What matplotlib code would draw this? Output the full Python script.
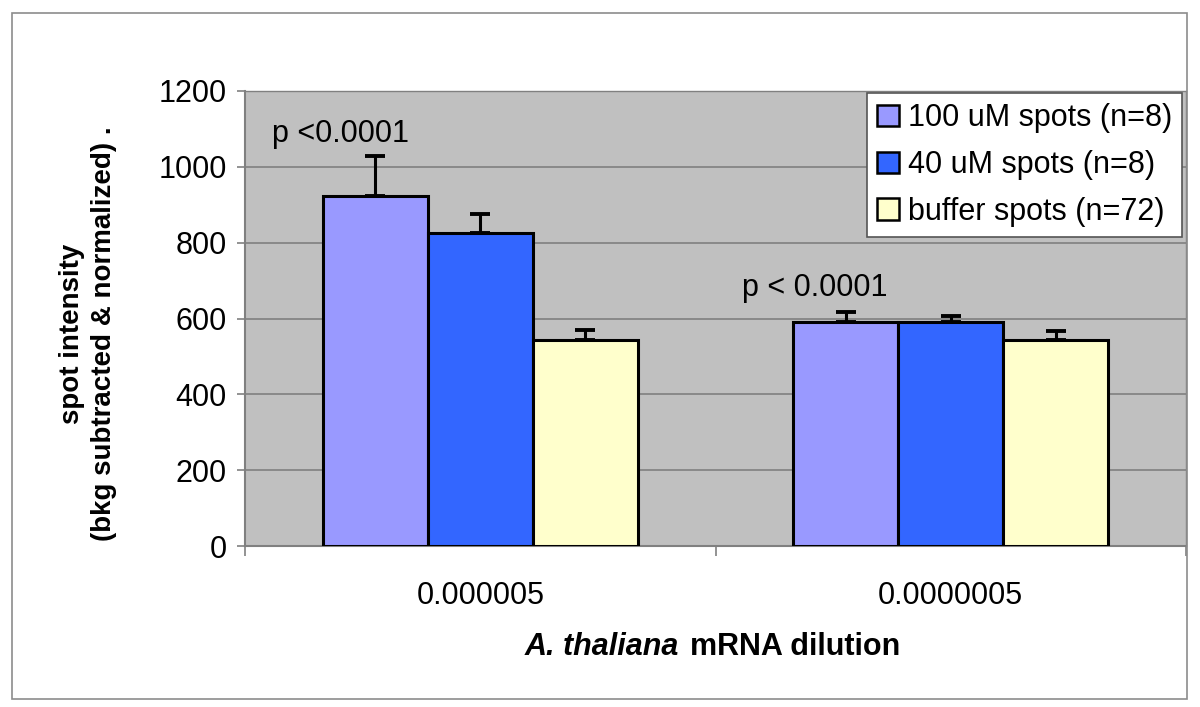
import matplotlib
matplotlib.use("Agg")
import matplotlib.pyplot as plt
import numpy as np
from matplotlib.patches import Rectangle

plt.rcParams['font.family'] = ['Liberation Sans', 'DejaVu Sans']

categories = ["0.000005", "0.0000005"]
series_names = ["100 uM spots (n=8)", "40 uM spots (n=8)", "buffer spots (n=72)"]
values = {
    "100 uM spots (n=8)": [923, 592],
    "40 uM spots (n=8)": [825, 590],
    "buffer spots (n=72)": [543, 543],
}
errors = {
    "100 uM spots (n=8)": [105, 26],
    "40 uM spots (n=8)": [50, 17],
    "buffer spots (n=72)": [27, 24],
}
colors = ["#9999FF", "#3366FF", "#FFFFCC"]
p_labels = ["p <0.0001", "p < 0.0001"]
p_label_y = [1065, 659]
yticks = [0, 200, 400, 600, 800, 1000, 1200]

FS = 22
W, H = 1200, 707
fig = plt.figure(figsize=(W / 100, H / 100), dpi=100)
fig.patch.set_facecolor("white")

# outer border
fig.patches.append(Rectangle((12 / W, 1 - 699 / H), (1187 - 12) / W, (699 - 13) / H,
                             transform=fig.transFigure, fill=False,
                             edgecolor="#8c8c8c", linewidth=1.2, zorder=0))

ax = fig.add_axes([245 / W, 1 - 546 / H, 941 / W, 455 / H])
ax.set_facecolor("#C0C0C0")

x = np.arange(len(categories))
bw = 0.223
offsets = [-bw, 0, bw]
handles = []
for i, name in enumerate(series_names):
    b = ax.bar(x + offsets[i], values[name], width=bw, color=colors[i],
               edgecolor="black", linewidth=2.2, label=name, zorder=3)
    handles.append(b)
    ax.errorbar(x + offsets[i], values[name],
                yerr=[np.zeros(len(categories)), errors[name]],
                fmt="none", ecolor="black", elinewidth=2.2, capsize=7.2,
                capthick=2.8, zorder=4)

ax.set_xlim(-0.5, 1.5)
ax.set_ylim(0, 1200)
ax.set_yticks(yticks)
ax.set_yticklabels([str(t) for t in yticks])
ax.yaxis.grid(True, color="#808080", linewidth=1.2, zorder=1)
ax.set_axisbelow(True)

ax.set_xticks(x)
ax.set_xticklabels(categories)
ax.set_xticks([-0.5, 0.5, 1.5], minor=True)
ax.tick_params(axis="x", which="major", length=0, pad=25, labelsize=FS)
ax.tick_params(axis="x", which="minor", length=7, color="#808080", width=1.2)
ax.tick_params(axis="y", length=6, color="#808080", width=1.2, pad=7, labelsize=FS)

for s in ["left", "bottom"]:
    ax.spines[s].set_color("#808080")
    ax.spines[s].set_linewidth(1.5)
for s in ["top", "right"]:
    ax.spines[s].set_color("#808080")
    ax.spines[s].set_linewidth(1.0)

for i, t in enumerate(p_labels):
    ax.text(x[i] - 0.443, p_label_y[i], t, ha="left", va="baseline", fontsize=FS)

leg = ax.legend(handles=handles, labels=series_names, loc="upper right",
                bbox_to_anchor=((1182 - 245) / 941, (546 - 93) / 455),
                fontsize=FS, frameon=True, fancybox=False, framealpha=1,
                edgecolor="#555555", handlelength=0.7, handleheight=0.7,
                handletextpad=0.3, labelspacing=0.55, borderpad=0.33,
                borderaxespad=0)
leg.get_frame().set_linewidth(1.2)
for p in leg.get_patches():
    p.set_linewidth(1.8)

# y label
fig.text(88 / W, 1 - 334 / H, "spot intensity\n(bkg subtracted & normalized) .",
         rotation=90, ha="center", va="center", multialignment="center",
         fontsize=20, fontweight="bold", linespacing=1.3)

# x label
fig.text(679 / W, 1 - 655 / H, "A. thaliana", ha="right", va="baseline",
         fontsize=FS, fontweight="bold", fontstyle="italic")
fig.text(690 / W, 1 - 655 / H, "mRNA dilution", ha="left", va="baseline",
         fontsize=FS, fontweight="bold")

fig.savefig("out.png", dpi=100)
